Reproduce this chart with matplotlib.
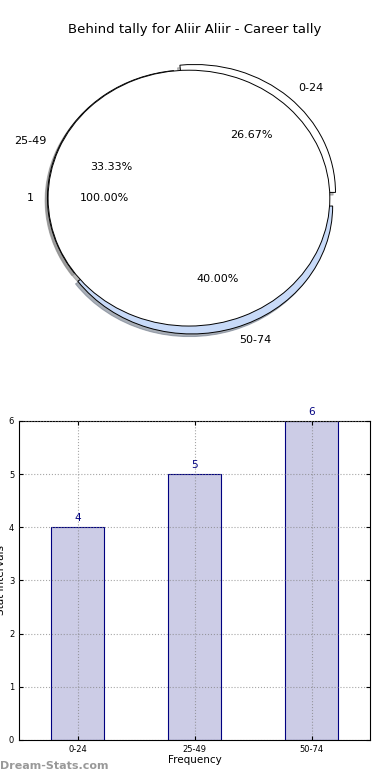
import numpy as np
import matplotlib
matplotlib.use("Agg")
import matplotlib.pyplot as plt

title = "Behind tally for Aliir Aliir - Career tally"
intervals = ["0-24", "25-49", "50-74"]
counts = [4, 5, 6]
pie_colors = ["white", "white", "#c8daf8"]
inner_label = ["1"]
inner_value = [1]

fig = plt.figure(figsize=(3.9, 7.8), dpi=100)

# pie section
ax1 = fig.add_axes([0.033, 0.541, 0.903, 0.41])
soft_shadow = {'ox': -0.012, 'oy': -0.015, 'shade': 0.45, 'alpha': 0.6}
ax1.pie(counts, labels=intervals, colors=pie_colors, explode=[0.06, 0.005, 0.065],
        autopct='%.2f%%', shadow=soft_shadow, startangle=0, labeldistance=1.1,
        wedgeprops=dict(edgecolor='black', linewidth=0.7),
        textprops=dict(fontsize=8))
ax1.pie(inner_value, labels=inner_label, colors=["white"], radius=1.0,
        autopct='%.2f%%', shadow=soft_shadow, startangle=0, labeldistance=1.1,
        wedgeprops=dict(edgecolor='black', linewidth=0.7),
        textprops=dict(fontsize=8))
ax1.set_aspect('auto')
ax1.set_xlim(-1.25, 1.25)
ax1.set_ylim(-1.25, 1.25)
fig.text(0.5, 0.962, title, ha='center', va='center', fontsize=9.5)

# bar section
ax2 = fig.add_axes([0.049, 0.0513, 0.9, 0.409])
x = np.arange(len(intervals))
bars = ax2.bar(x, counts, width=0.45, color="#ccccE6", edgecolor="navy", linewidth=0.8,
               zorder=2)
for b, v in zip(bars, counts):
    ax2.text(b.get_x() + b.get_width() / 2, v + 0.08, str(v), ha='center', va='bottom',
             color='navy', fontsize=7.5)
ax2.set_xlim(-0.5, 2.5)
ax2.set_ylim(0, 6)
ax2.set_xticks(x)
ax2.set_xticklabels(intervals)
ax2.set_yticks(range(0, 7))
ax2.tick_params(labelsize=6, direction='in', top=True, right=True, length=3)
ax2.grid(True, linestyle=':', color='gray', alpha=0.7, zorder=3)
ax2.set_axisbelow(False)
ax2.set_xlabel("Frequency", fontsize=7.5, labelpad=1)
ax2.set_ylabel("Stat Intervals", fontsize=7.5, labelpad=2)
fig.text(0.0, 0.012, "Dream-Stats.com", fontsize=8, color='#999999', fontweight='bold',
         ha='left', va='bottom')

fig.savefig("out.png", dpi=100)
